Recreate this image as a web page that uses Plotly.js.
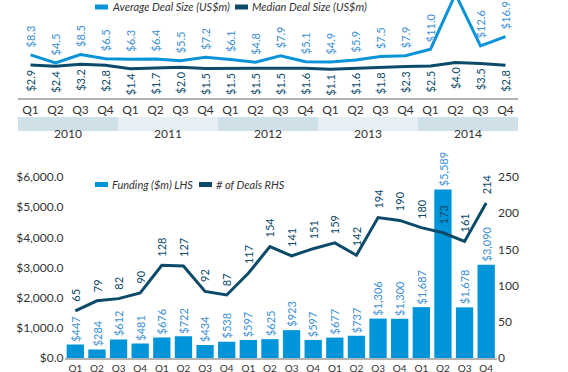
<!DOCTYPE html>
<html>
<head>
<meta charset="utf-8">
<script src="https://cdn.plot.ly/plotly-3.0.1.min.js"></script>
<style>html,body{margin:0;padding:0;background:#fff;}#chart{width:568px;height:372px;}</style>
</head>
<body>
<div id="chart"></div>
<script>
// ---- data ----
const years = ['2010', '2011', '2012', '2013', '2014'];
const quarters = ['Q1', 'Q2', 'Q3', 'Q4'];
const avgDealSize = [8.3, 4.5, 8.5, 6.5, 6.3, 6.4, 5.5, 7.2, 6.1, 4.8, 7.9, 5.1, 4.9, 5.9, 7.5, 7.9, 11.0, 37.0, 12.6, 16.9];
const medianDealSize = [2.9, 2.4, 3.2, 2.8, 1.4, 1.7, 2.0, 1.5, 1.5, 1.5, 1.5, 1.6, 1.1, 1.6, 1.8, 2.3, 2.5, 4.0, 3.5, 2.8];
const funding = [447, 284, 612, 481, 676, 722, 434, 538, 597, 625, 923, 597, 677, 737, 1306, 1300, 1687, 5589, 1678, 3090];
const deals = [65, 79, 82, 90, 128, 127, 92, 87, 117, 154, 141, 151, 159, 142, 194, 190, 180, 173, 161, 214];
const seriesNames = ['Average Deal Size (US$m)', 'Median Deal Size (US$m)', 'Funding ($m) LHS', '# of Deals RHS'];

// ---- derived ----
const periods = [];
const periodQ = [];
years.forEach(y => quarters.forEach(q => { periods.push(y + ' ' + q); periodQ.push(q); }));

const W = 568, H = 372;
const FONT = 'Lato, Open Sans, sans-serif';
const LIGHT = '#0a93d8';
const DARK = '#0c4a69';
const LBL_LIGHT = '#3b8fd6';
const TXT = '#333333';
const fy = px => 1 - px / H;
const fx = px => px / W;

const traces = [
  {x: periods, y: avgDealSize, type: 'scatter', mode: 'lines', name: seriesNames[0],
   line: {color: LIGHT, width: 3}, xaxis: 'x', yaxis: 'y', showlegend: false, hoverinfo: 'skip'},
  {x: periods, y: medianDealSize, type: 'scatter', mode: 'lines', name: seriesNames[1],
   line: {color: DARK, width: 3}, xaxis: 'x', yaxis: 'y3', showlegend: false, hoverinfo: 'skip'},
  {x: periods, y: funding, type: 'bar', name: seriesNames[2], marker: {color: '#0094d9'},
   width: 0.8, xaxis: 'x2', yaxis: 'y2', showlegend: false, hoverinfo: 'skip'},
  {x: periods, y: deals, type: 'scatter', mode: 'lines', name: seriesNames[3],
   line: {color: DARK, width: 3}, xaxis: 'x2', yaxis: 'y4', showlegend: false, hoverinfo: 'skip'}
];

const ann = [];
const lblFont = (c) => ({family: FONT, size: 11, color: c});
periods.forEach((p, i) => {
  if (avgDealSize[i] < 30) {
    ann.push({x: p, y: avgDealSize[i], xref: 'x', yref: 'y', text: '$' + avgDealSize[i].toFixed(1),
      textangle: -90, showarrow: false, yanchor: 'bottom', yshift: 5, font: lblFont(LBL_LIGHT)});
  }
  ann.push({x: p, y: medianDealSize[i], xref: 'x', yref: 'y3', text: '$' + medianDealSize[i].toFixed(1),
    textangle: -90, showarrow: false, yanchor: 'top', yshift: -3, font: lblFont(DARK)});
  ann.push({x: p, y: funding[i], xref: 'x2', yref: 'y2', text: '$' + funding[i].toLocaleString('en-US'),
    textangle: -90, showarrow: false, yanchor: 'bottom', yshift: 1, font: lblFont(LBL_LIGHT)});
  ann.push({x: p, y: deals[i], xref: 'x2', yref: 'y4', text: String(deals[i]),
    textangle: -90, showarrow: false, yanchor: 'bottom', yshift: 7, font: lblFont(DARK)});
});

const shapes = [];
years.forEach((y, i) => {
  shapes.push({type: 'rect', xref: 'x', yref: 'paper', x0: i * 4 - 0.5, x1: i * 4 + 3.5,
    y0: fy(131), y1: fy(117), line: {width: 0}, fillcolor: i % 2 === 0 ? '#cfe0e8' : '#e6eff4', layer: 'below'});
  ann.push({x: i * 4 + 1.5, y: fy(124), xref: 'x', yref: 'paper', text: y, showarrow: false,
    font: {family: FONT, size: 12, color: TXT}});
});

// manual legends
const legendItems = [
  {name: seriesNames[0], color: LIGHT, sx: 95, tx: 110, y: 7},
  {name: seriesNames[1], color: DARK, sx: 235, tx: 250, y: 7},
  {name: seriesNames[2], color: '#0094d9', sx: 95, tx: 110, y: 184.5},
  {name: seriesNames[3], color: DARK, sx: 199, tx: 214, y: 184.5}
];
legendItems.forEach(l => {
  shapes.push({type: 'rect', xref: 'paper', yref: 'paper', x0: fx(l.sx), x1: fx(l.sx + 13),
    y0: fy(l.y + 2.5), y1: fy(l.y - 2.5), line: {width: 0}, fillcolor: l.color});
  ann.push({x: fx(l.tx), y: fy(l.y), xref: 'paper', yref: 'paper', xanchor: 'left', yanchor: 'middle',
    text: '<i>' + l.name + '</i>', showarrow: false, font: {family: FONT, size: 11, color: TXT}});
});

const layout = {
  width: W, height: H,
  margin: {l: 0, r: 0, t: 0, b: 0, pad: 0},
  paper_bgcolor: '#ffffff', plot_bgcolor: 'rgba(0,0,0,0)',
  font: {family: FONT, size: 12, color: TXT},
  showlegend: false,
  xaxis: {domain: [fx(18), fx(518)], anchor: 'y', type: 'category', range: [-0.5, 19.5],
    tickvals: periods, ticktext: periodQ, showline: true, linecolor: '#b3b3b3', linewidth: 1.5,
    ticks: '', showgrid: false, zeroline: false, tickfont: {family: FONT, size: 12, color: TXT}, fixedrange: true},
  yaxis: {domain: [fy(98), 1], range: [-12.03, 34.2], visible: false, fixedrange: true},
  yaxis3: {overlaying: 'y', anchor: 'x', range: [-10.83, 30], visible: false, fixedrange: true},
  xaxis2: {domain: [fx(64.5), fx(497)], anchor: 'y2', type: 'category', range: [-0.5, 19.5],
    tickvals: periods, ticktext: periodQ, showline: true, linecolor: '#b3b3b3', linewidth: 1.5,
    ticks: '', showgrid: false, zeroline: false, tickfont: {family: FONT, size: 10, color: TXT}, fixedrange: true},
  yaxis2: {domain: [fy(358), fy(177)], anchor: 'x2', range: [0, 6000], dtick: 1000, tickformat: '$,.1f',
    showline: false, showgrid: false, zeroline: false, ticks: '', tickfont: {family: FONT, size: 12, color: TXT}, fixedrange: true},
  yaxis4: {overlaying: 'y2', anchor: 'x2', side: 'right', range: [0, 250], dtick: 50,
    showline: false, showgrid: false, zeroline: false, ticks: '', tickfont: {family: FONT, size: 12, color: TXT}, fixedrange: true},
  bargap: 0.2,
  shapes: shapes,
  annotations: ann
};

Plotly.newPlot('chart', traces, layout, {displayModeBar: false, staticPlot: true});
</script>
</body>
</html>
